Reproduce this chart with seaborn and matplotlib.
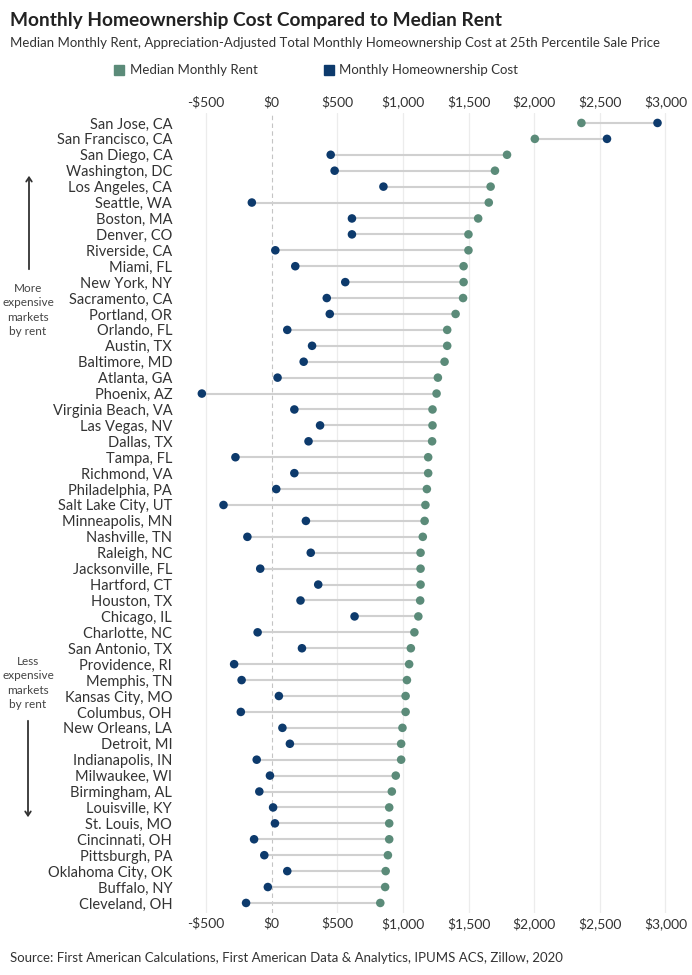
import numpy as np
import pandas as pd
import matplotlib
matplotlib.use("Agg")
import matplotlib.pyplot as plt
from matplotlib.lines import Line2D
from matplotlib.patches import FancyArrowPatch
import seaborn as sns

cities = [
    "San Jose, CA", "San Francisco, CA", "San Diego, CA", "Washington, DC",
    "Los Angeles, CA", "Seattle, WA", "Boston, MA", "Denver, CO",
    "Riverside, CA", "Miami, FL", "New York, NY", "Sacramento, CA",
    "Portland, OR", "Orlando, FL", "Austin, TX", "Baltimore, MD",
    "Atlanta, GA", "Phoenix, AZ", "Virginia Beach, VA", "Las Vegas, NV",
    "Dallas, TX", "Tampa, FL", "Richmond, VA", "Philadelphia, PA",
    "Salt Lake City, UT", "Minneapolis, MN", "Nashville, TN", "Raleigh, NC",
    "Jacksonville, FL", "Hartford, CT", "Houston, TX", "Chicago, IL",
    "Charlotte, NC", "San Antonio, TX", "Providence, RI", "Memphis, TN",
    "Kansas City, MO", "Columbus, OH", "New Orleans, LA", "Detroit, MI",
    "Indianapolis, IN", "Milwaukee, WI", "Birmingham, AL", "Louisville, KY",
    "St. Louis, MO", "Cincinnati, OH", "Pittsburgh, PA", "Oklahoma City, OK",
    "Buffalo, NY", "Cleveland, OH",
]

median_rent = [
    2360, 2005, 1793, 1701, 1668, 1654, 1573, 1499,
    1499, 1462, 1462, 1458, 1401, 1337, 1337, 1317,
    1266, 1256, 1225, 1225, 1222, 1192, 1192, 1182,
    1171, 1165, 1151, 1134, 1134, 1134, 1131, 1117,
    1087, 1060, 1047, 1030, 1020, 1020, 996, 986,
    986, 945, 915, 895, 895, 895, 885, 868,
    864, 827,
]

ownership_cost = [
    2940, 2555, 449, 479, 851, -152, 611, 611,
    27, 179, 560, 419, 442, 118, 307, 243,
    44, -533, 172, 368, 280, -277, 172, 34,
    -368, 260, -186, 297, -88, 354, 219, 631,
    -108, 230, -287, -230, 54, -236, 81, 138,
    -115, -14, -95, 10, 24, -135, -57, 118,
    -30, -196,
]

tick_values = [-500, 0, 500, 1000, 1500, 2000, 2500, 3000]
tick_labels = ["-$500", "$0", "$500", "$1,000", "$1,500", "$2,000", "$2,500", "$3,000"]

rent_color = "#5b8b79"
cost_color = "#0d3a6c"
text_color = "#333333"

sns.set_theme(style="white")
plt.rcParams["font.family"] = ["Lato", "DejaVu Sans"]

df = pd.DataFrame({"city": cities, "rent": median_rent, "cost": ownership_cost})
long_df = df.melt(id_vars="city", value_vars=["rent", "cost"], var_name="series", value_name="value")
long_df["y"] = long_df["city"].map({c: i for i, c in enumerate(cities)})

fig = plt.figure(figsize=(6.92, 9.75), dpi=100)
ax = fig.add_axes([0.279, 0.0641, 0.692, 0.8196])

# grid lines, dashed at zero
for v in tick_values:
    if v == 0:
        ax.axvline(v, color="#c4c4c4", lw=0.8, ls=(0, (4, 3)), zorder=0)
    else:
        ax.axvline(v, color="#ececec", lw=0.9, zorder=0)

# connecting lines
ax.hlines(df.index, df[["rent", "cost"]].min(axis=1), df[["rent", "cost"]].max(axis=1),
          color="#d0d0d0", lw=1.5, zorder=1)

sns.scatterplot(data=long_df, x="value", y="y", hue="series",
                palette={"rent": rent_color, "cost": cost_color},
                s=38, linewidth=0, legend=False, zorder=3, ax=ax)

ax.set_xlim(-600, 3050)
ax.set_ylim(len(cities) - 0.4, -0.6)
ax.set_yticks(range(len(cities)))
ax.set_yticklabels(cities, fontsize=10.5, color=text_color)
ax.set_xticks(tick_values)
ax.set_xticklabels(tick_labels, fontsize=10, color=text_color)
ax.tick_params(axis="x", length=0, top=False, bottom=False, labeltop=True, labelbottom=True, pad=3.5)
ax.tick_params(axis="y", length=0, pad=15)
ax.set_xlabel("")
ax.set_ylabel("")
for s in ax.spines.values():
    s.set_visible(False)

# titles
fig.text(0.014, 0.979, "Monthly Homeownership Cost Compared to Median Rent",
         fontsize=13.8, fontweight="bold", color="#222222", va="center")
fig.text(0.014, 0.956, "Median Monthly Rent, Appreciation-Adjusted Total Monthly Homeownership Cost at 25th Percentile Sale Price",
         fontsize=9.5, color=text_color, va="center")

handles = [
    Line2D([], [], marker="s", ls="", color=rent_color, markersize=6.5, label="Median Monthly Rent"),
    Line2D([], [], marker="s", ls="", color=cost_color, markersize=6.5, label="Monthly Homeownership Cost"),
]
fig.legend(handles=handles, loc="center", bbox_to_anchor=(0.456, 0.928), ncol=2, frameon=False,
           fontsize=9.5, handlelength=1.0, handletextpad=0.3, columnspacing=4.9, labelcolor=text_color)

# side annotations
fig.text(28 / 692, 1 - 310 / 975, "More\nexpensive\nmarkets\nby rent", ha="center", va="center",
         fontsize=8.5, color="#444444", linespacing=1.35)
fig.text(28 / 692, 1 - 683 / 975, "Less\nexpensive\nmarkets\nby rent", ha="center", va="center",
         fontsize=8.5, color="#444444", linespacing=1.35)
fig.add_artist(FancyArrowPatch((29 / 692, 1 - 272 / 975), (29 / 692, 1 - 173 / 975),
               transform=fig.transFigure, arrowstyle="->,head_length=3,head_width=2",
               color="#333333", lw=1.3, mutation_scale=1))
fig.add_artist(FancyArrowPatch((28 / 692, 1 - 718 / 975), (28 / 692, 1 - 820 / 975),
               transform=fig.transFigure, arrowstyle="->,head_length=3,head_width=2",
               color="#333333", lw=1.3, mutation_scale=1))

fig.text(0.014, 1 - 958 / 975, "Source: First American Calculations, First American Data & Analytics, IPUMS ACS, Zillow, 2020",
         fontsize=9.5, color=text_color, va="center")

fig.savefig("out.png", dpi=100)
